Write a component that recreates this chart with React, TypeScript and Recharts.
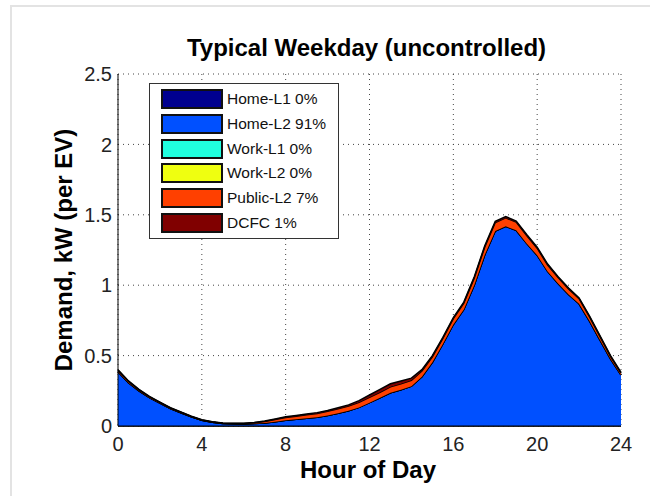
import { AreaChart, Area, XAxis, YAxis, CartesianGrid } from 'recharts'

const hours = [0, 0.5, 1, 1.5, 2, 2.5, 3, 3.5, 4, 4.5, 5, 5.5, 6, 6.5, 7, 7.5, 8, 8.5, 9, 9.5, 10, 10.5, 11, 11.5, 12, 12.5, 13, 13.5, 14, 14.5, 15, 15.5, 16, 16.5, 17, 17.5, 18, 18.5, 19, 19.5, 20, 20.5, 21, 21.5, 22, 22.5, 23, 23.5, 24]

const homeL1 = [0, 0, 0, 0, 0, 0, 0, 0, 0, 0, 0, 0, 0, 0, 0, 0, 0, 0, 0, 0, 0, 0, 0, 0, 0, 0, 0, 0, 0, 0, 0, 0, 0, 0, 0, 0, 0, 0, 0, 0, 0, 0, 0, 0, 0, 0, 0, 0, 0]
const homeL2 = [0.385, 0.308, 0.25, 0.201, 0.162, 0.123, 0.094, 0.065, 0.04, 0.026, 0.018, 0.016, 0.015, 0.018, 0.022, 0.031, 0.04, 0.048, 0.055, 0.062, 0.074, 0.091, 0.108, 0.132, 0.166, 0.2, 0.236, 0.258, 0.283, 0.35, 0.452, 0.583, 0.721, 0.828, 1.002, 1.217, 1.385, 1.418, 1.39, 1.297, 1.213, 1.098, 1.012, 0.934, 0.868, 0.745, 0.61, 0.477, 0.363]
const workL1 = [0, 0, 0, 0, 0, 0, 0, 0, 0, 0, 0, 0, 0, 0, 0, 0, 0, 0, 0, 0, 0, 0, 0, 0, 0, 0, 0, 0, 0, 0, 0, 0, 0, 0, 0, 0, 0, 0, 0, 0, 0, 0, 0, 0, 0, 0, 0, 0, 0]
const workL2 = [0, 0, 0, 0, 0, 0, 0, 0, 0, 0, 0, 0, 0, 0, 0, 0, 0, 0, 0, 0, 0, 0, 0, 0, 0, 0, 0, 0, 0, 0, 0, 0, 0, 0, 0, 0, 0, 0, 0, 0, 0, 0, 0, 0, 0, 0, 0, 0, 0]
const publicL2 = [0.01, 0.008, 0.007, 0.006, 0.005, 0.005, 0.004, 0.003, 0.003, 0.002, 0.002, 0.002, 0.003, 0.005, 0.01, 0.015, 0.02, 0.022, 0.025, 0.027, 0.03, 0.032, 0.034, 0.036, 0.038, 0.04, 0.042, 0.042, 0.042, 0.04, 0.04, 0.04, 0.042, 0.045, 0.05, 0.055, 0.06, 0.06, 0.058, 0.055, 0.05, 0.045, 0.042, 0.04, 0.036, 0.03, 0.025, 0.018, 0.012]
const dcfc = [0.005, 0.004, 0.003, 0.003, 0.003, 0.002, 0.002, 0.002, 0.002, 0.002, 0.002, 0.002, 0.002, 0.002, 0.003, 0.004, 0.005, 0.005, 0.005, 0.006, 0.006, 0.007, 0.008, 0.012, 0.016, 0.02, 0.022, 0.02, 0.015, 0.01, 0.008, 0.007, 0.007, 0.007, 0.008, 0.008, 0.009, 0.009, 0.008, 0.008, 0.007, 0.007, 0.006, 0.006, 0.006, 0.005, 0.005, 0.005, 0.005]

const xTicks = [0, 4, 8, 12, 16, 20, 24]
const yTicks = [0, 0.5, 1, 1.5, 2, 2.5]

const series = [
  { key: 'homeL1', label: 'Home-L1 0%', color: '#00008f' },
  { key: 'homeL2', label: 'Home-L2 91%', color: '#0050ff' },
  { key: 'workL1', label: 'Work-L1 0%', color: '#20ffdf' },
  { key: 'workL2', label: 'Work-L2 0%', color: '#efff10' },
  { key: 'publicL2', label: 'Public-L2 7%', color: '#ff4000' },
  { key: 'dcfc', label: 'DCFC 1%', color: '#800000' },
]

const data = hours.map((h, i) => ({
  hour: h,
  homeL1: homeL1[i],
  homeL2: homeL2[i],
  workL1: workL1[i],
  workL2: workL2[i],
  publicL2: publicL2[i],
  dcfc: dcfc[i],
}))

const font = 'Arial, "Liberation Sans", Helvetica, sans-serif'

export default function App() {
  return (
    <div style={{ position: 'absolute', left: 0, top: 0, width: 650, height: 496, background: '#fff', overflow: 'hidden', fontFamily: font }}>
      <div style={{ position: 'absolute', left: 10, top: 5, width: 660, height: 520, border: '2px solid #e3e3e3' }} />
      <div style={{ position: 'absolute', left: 115, width: 503, top: 34, textAlign: 'center', fontSize: 24, fontWeight: 'bold', color: '#000' }}>
        Typical Weekday (uncontrolled)
      </div>
      <AreaChart width={650} height={496} data={data} margin={{ top: 74, right: 29, left: 58, bottom: 40 }} style={{ position: 'absolute', left: 0, top: 0 }}>
        <CartesianGrid stroke="#444" strokeDasharray="1 4" />
        <XAxis dataKey="hour" type="number" domain={[0, 24]} ticks={xTicks} height={30} tickLine={false}
          axisLine={{ stroke: '#000' }} tickMargin={5} tick={{ fontSize: 20, fill: '#222', fontFamily: font }} interval={0} />
        <YAxis type="number" domain={[0, 2.5]} ticks={yTicks} width={60} tickLine={false}
          axisLine={{ stroke: '#000' }} tickMargin={0} tick={{ fontSize: 20, fill: '#222', fontFamily: font }} interval={0} />
        {series.map(s => (
          <Area key={s.key} type="linear" dataKey={s.key} stackId="ev" stroke="#000" strokeWidth={1.5}
            fill={s.color} fillOpacity={1} dot={false} activeDot={false} isAnimationActive={false} />
        ))}
      </AreaChart>
      <div style={{ position: 'absolute', left: 118, width: 500, top: 456, textAlign: 'center', fontSize: 24, fontWeight: 'bold', color: '#000' }}>
        Hour of Day
      </div>
      <div style={{ position: 'absolute', left: 64, top: 250, transform: 'translate(-50%, -50%) rotate(-90deg)', whiteSpace: 'nowrap', fontSize: 24, fontWeight: 'bold', color: '#000' }}>
        Demand, kW (per EV)
      </div>
      <div style={{ position: 'absolute', left: 149, top: 83, width: 188, height: 154, border: '1px solid #333', background: '#fff' }}>
        {series.map((s, i) => (
          <div key={s.key} style={{ position: 'absolute', left: 11, top: 5 + i * 24.8, display: 'flex', alignItems: 'center', height: 20 }}>
            <div style={{ width: 58, height: 16, background: s.color, border: '2px solid #111' }} />
            <span style={{ marginLeft: 4, fontSize: 15.5, color: '#111' }}>{s.label}</span>
          </div>
        ))}
      </div>
    </div>
  )
}
